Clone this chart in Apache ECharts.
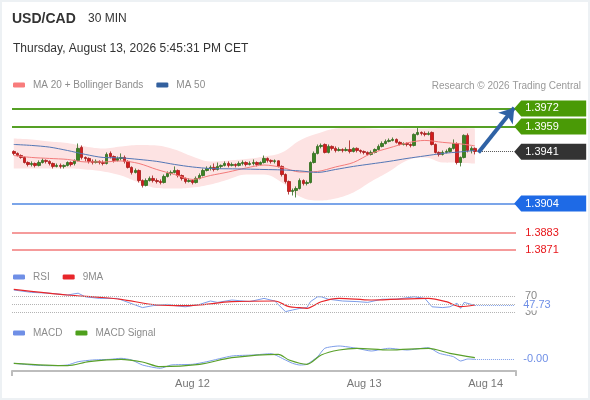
<!DOCTYPE html>
<html><head><meta charset="utf-8">
<script src="https://cdn.jsdelivr.net/npm/echarts@6/dist/echarts.min.js"></script>
<style>
html,body{margin:0;padding:0;background:#fff}
#wrap{position:relative;width:590px;height:400px}
#c{width:590px;height:400px}
#frame{position:absolute;left:0;top:0;right:0;bottom:0;border:2px solid #edf1f4;pointer-events:none}
</style>
</head><body><div id="wrap"><div id="c"></div><div id="frame"></div></div>
<script>
// ---------- data ----------
const slotCount = 141; // 30-min slots on the time axis (candles + empty future area)
const xTickLabels = [[50, 'Aug 12'], [98, 'Aug 13'], [132, 'Aug 14']];

const opens = [1.39412,1.39398,1.39383,1.39369,1.39333,1.39319,1.39326,1.39312,1.39333,1.39348,
 1.39341,1.39326,1.39305,1.39312,1.39305,1.39312,1.39333,1.39326,1.39348,1.39441,
 1.39369,1.39362,1.39341,1.39333,1.39341,1.39333,1.39326,1.39398,1.39376,1.39348,
 1.39362,1.39369,1.39341,1.39298,1.39262,1.39276,1.39204,1.39169,1.39204,1.39219,
 1.39204,1.39197,1.39190,1.39233,1.39255,1.39262,1.39276,1.39240,1.39219,1.39197,
 1.39204,1.39190,1.39219,1.39240,1.39276,1.39290,1.39298,1.39283,1.39305,1.39312,
 1.39326,1.39312,1.39319,1.39312,1.39326,1.39333,1.39319,1.39326,1.39333,1.39319,
 1.39333,1.39362,1.39348,1.39341,1.39345,1.39305,1.39247,1.39197,1.39126,1.39133,
 1.39147,1.39204,1.39183,1.39190,1.39333,1.39398,1.39448,1.39462,1.39405,1.39448,
 1.39434,1.39419,1.39426,1.39419,1.39426,1.39412,1.39434,1.39419,1.39412,1.39405,
 1.39391,1.39405,1.39426,1.39448,1.39469,1.39484,1.39491,1.39498,1.39477,1.39462,
 1.39469,1.39462,1.39455,1.39534,1.39548,1.39541,1.39534,1.39548,1.39462,1.39405,
 1.39391,1.39405,1.39412,1.39434,1.39469,1.39333,1.39369,1.39527,1.39419,1.39434];

const closes = [1.39398,1.39383,1.39369,1.39333,1.39319,1.39326,1.39312,1.39333,1.39348,1.39341,
 1.39326,1.39305,1.39312,1.39305,1.39312,1.39333,1.39319,1.39348,1.39434,1.39369,
 1.39362,1.39341,1.39333,1.39341,1.39333,1.39326,1.39391,1.39376,1.39348,1.39362,
 1.39369,1.39341,1.39298,1.39262,1.39276,1.39204,1.39169,1.39204,1.39219,1.39204,
 1.39197,1.39190,1.39233,1.39255,1.39262,1.39276,1.39240,1.39219,1.39197,1.39204,
 1.39190,1.39219,1.39240,1.39276,1.39290,1.39298,1.39283,1.39305,1.39312,1.39326,
 1.39312,1.39319,1.39312,1.39326,1.39333,1.39319,1.39326,1.39333,1.39319,1.39333,
 1.39362,1.39348,1.39341,1.39345,1.39305,1.39247,1.39197,1.39126,1.39133,1.39147,
 1.39204,1.39183,1.39190,1.39333,1.39398,1.39448,1.39455,1.39405,1.39448,1.39434,
 1.39419,1.39426,1.39419,1.39426,1.39412,1.39434,1.39419,1.39412,1.39405,1.39391,
 1.39405,1.39426,1.39448,1.39469,1.39484,1.39491,1.39498,1.39477,1.39462,1.39469,
 1.39462,1.39455,1.39534,1.39548,1.39541,1.39534,1.39541,1.39462,1.39405,1.39391,
 1.39405,1.39412,1.39434,1.39469,1.39333,1.39369,1.39527,1.39419,1.39434,1.39412];

const lows = [1.39385,1.39376,1.39360,1.39326,1.39305,1.39305,1.39298,1.39305,1.39326,1.39326,
 1.39312,1.39290,1.39298,1.39290,1.39290,1.39305,1.39305,1.39312,1.39341,1.39355,
 1.39341,1.39326,1.39319,1.39326,1.39319,1.39312,1.39319,1.39362,1.39333,1.39341,
 1.39348,1.39326,1.39290,1.39247,1.39255,1.39190,1.39154,1.39162,1.39197,1.39190,
 1.39183,1.39176,1.39183,1.39226,1.39240,1.39255,1.39226,1.39204,1.39183,1.39190,
 1.39176,1.39183,1.39212,1.39233,1.39269,1.39276,1.39269,1.39276,1.39290,1.39305,
 1.39298,1.39305,1.39298,1.39305,1.39312,1.39305,1.39312,1.39312,1.39305,1.39312,
 1.39326,1.39333,1.39326,1.39326,1.39298,1.39233,1.39183,1.39104,1.39097,1.39083,
 1.39140,1.39169,1.39169,1.39183,1.39326,1.39391,1.39434,1.39398,1.39398,1.39419,
 1.39405,1.39412,1.39405,1.39412,1.39398,1.39405,1.39405,1.39398,1.39391,1.39383,
 1.39383,1.39398,1.39419,1.39441,1.39462,1.39477,1.39484,1.39469,1.39455,1.39455,
 1.39448,1.39441,1.39448,1.39527,1.39527,1.39520,1.39527,1.39455,1.39398,1.39376,
 1.39383,1.39398,1.39405,1.39426,1.39319,1.39305,1.39362,1.39405,1.39398,1.39391];

const highs = [1.39420,1.39405,1.39391,1.39376,1.39341,1.39341,1.39333,1.39348,1.39362,1.39355,
 1.39348,1.39333,1.39326,1.39326,1.39319,1.39341,1.39341,1.39355,1.39469,1.39455,
 1.39376,1.39369,1.39355,1.39355,1.39348,1.39348,1.39405,1.39412,1.39383,1.39376,
 1.39398,1.39383,1.39348,1.39305,1.39290,1.39283,1.39212,1.39219,1.39233,1.39240,
 1.39219,1.39212,1.39247,1.39269,1.39276,1.39305,1.39283,1.39247,1.39226,1.39219,
 1.39212,1.39233,1.39255,1.39290,1.39305,1.39312,1.39326,1.39333,1.39319,1.39341,
 1.39341,1.39333,1.39326,1.39341,1.39348,1.39341,1.39341,1.39355,1.39341,1.39341,
 1.39383,1.39369,1.39355,1.39355,1.39348,1.39312,1.39255,1.39204,1.39147,1.39162,
 1.39219,1.39212,1.39204,1.39341,1.39412,1.39462,1.39469,1.39469,1.39462,1.39455,
 1.39448,1.39441,1.39434,1.39441,1.39491,1.39441,1.39441,1.39426,1.39419,1.39412,
 1.39419,1.39434,1.39462,1.39484,1.39498,1.39505,1.39512,1.39505,1.39484,1.39477,
 1.39477,1.39469,1.39541,1.39584,1.39555,1.39555,1.39555,1.39555,1.39469,1.39412,
 1.39419,1.39426,1.39441,1.39498,1.39477,1.39376,1.39534,1.39541,1.39448,1.39441];

const ma20 = [[0,1.39383],[5,1.39369],[10,1.39362],[15,1.39355],[20,1.39337],[25,1.39337],[30,1.39344],[35,1.39326],[40,1.39283],[45,1.39247],[50,1.39212],[55,1.39240],[60,1.39265],[65,1.39294],[70,1.39315],[75,1.39298],[80,1.39265],[85,1.39269],[90,1.39301],[95,1.39333],[100,1.39398],[105,1.39437],[110,1.39473],[115,1.39491],[120,1.39477],[125,1.39466],[129,1.39452]];
const ma50 = [[0,1.39462],[5,1.39455],[10,1.39443],[15,1.39419],[20,1.39391],[25,1.39369],[30,1.39366],[35,1.39355],[40,1.39341],[45,1.39319],[50,1.39301],[55,1.39290],[60,1.39288],[65,1.39286],[70,1.39283],[75,1.39280],[80,1.39273],[85,1.39262],[90,1.39283],[95,1.39305],[100,1.39323],[105,1.39341],[110,1.39362],[115,1.39380],[120,1.39398],[125,1.39409],[129,1.39419]];
const bbUpper = [[0,1.39505],[5,1.39498],[10,1.39484],[15,1.39473],[20,1.39448],[25,1.39434],[30,1.39448],[35,1.39459],[40,1.39455],[45,1.39426],[50,1.39376],[55,1.39341],[60,1.39348],[65,1.39358],[70,1.39376],[75,1.39405],[80,1.39491],[85,1.39541],[90,1.39577],[95,1.39584],[100,1.39577],[105,1.39570],[110,1.39577],[115,1.39577],[120,1.39580],[125,1.39580],[129,1.39577]];
const bbLower = [[0,1.39290],[5,1.39290],[10,1.39290],[15,1.39290],[20,1.39283],[25,1.39269],[30,1.39240],[35,1.39190],[40,1.39151],[45,1.39147],[50,1.39154],[55,1.39176],[60,1.39212],[65,1.39247],[70,1.39247],[75,1.39190],[80,1.39090],[85,1.39061],[90,1.39076],[95,1.39119],[100,1.39197],[105,1.39269],[110,1.39348],[115,1.39369],[120,1.39333],[125,1.39330],[129,1.39326]];

const rsi = [[0,85],[5,79],[10,77],[15,72.5],[18,77],[20,68],[24,64],[29,64],[32,54],[34,47.5],[36,41],[39,46],[43,49],[45,46],[48,43],[52,49],[55,57.5],[57,54],[61,60],[66,56],[70,64],[73,57.5],[76,31],[78,35],[80,39],[82,41],[83,56],[85,68],[86,68],[88,62],[92,57.5],[96,56],[99,54],[103,62],[107,62],[112,68],[115,64],[117,43],[120,41],[122,43],[124,52],[125,39],[126,54],[128,49],[129,47.73]];
const rsi9ma = [[0,86.75],[15,72.5],[24,66.75],[30,61.75],[40,47.5],[48,45.75],[61,55.75],[73,57.5],[77,43.25],[80,40.75],[82,39.25],[86,55.75],[91,64.25],[100,60],[116,64.25],[121,55.75],[125,43.25],[129,47.5]];
const rsiTicks = [70, 30];
const rsiGuides = [70, 50, 30];
const rsiLast = { index: 129, value: 47.73, label: '47.73' };

const macd = [[0,-0.000086],[5,-0.00012],[10,-0.000134],[15,-0.00012],[18,-0.000054],[22,-0.00002],[27,-0.000006],[30,0.000014],[33,-0.00002],[36,-0.00012],[41,-0.000186],[44,-0.00012],[50,-0.000106],[54,-0.000054],[61,0.00006],[67,0.00008],[72,0.000106],[76,-0.00002],[78,-0.000086],[80,-0.00012],[82,-0.000106],[85,0.000046],[87,0.000214],[91,0.00026],[96,0.000214],[100,0.00016],[105,0.000214],[110,0.00018],[116,0.000226],[119,0.000114],[123,0.000046],[125,-0.00004],[127,0],[129,-0.000006]];
const macdSignal = [[0,-0.000086],[15,-0.000134],[21,-0.000054],[30,-0.000006],[36,-0.00006],[41,-0.000154],[52,-0.000106],[61,0.000026],[74,0.000094],[77,-0.00002],[82,-0.000106],[86,0.00008],[91,0.00018],[96,0.000214],[105,0.00018],[116,0.000214],[122,0.000114],[129,0.000026]];
const macdLast = { index: 129, value: -0.000006, label: '-0.00' };

const resistances = [1.3972, 1.3959];
const lastPrice = 1.3941;
const pivot = 1.3904;
const supports = [1.3883, 1.3871];
const arrowFrom = [130, 1.39405];
const arrowTo = [140, 1.39725];

// ---------- chart ----------
const FONT = "'Liberation Sans', Arial, Helvetica, sans-serif";
const cats = Array.from({ length: slotCount }, (_, i) => String(i));
const lastSlot = slotCount - 1;
const labelMap = Object.fromEntries(xTickLabels);
const candleData = opens.map((o, i) => [o, closes[i], lows[i], highs[i]]);
const bandWidth = bbUpper.map((p, k) => [p[0], +(p[1] - bbLower[k][1]).toFixed(6)]);

const legendCommon = {
  itemWidth: 12, itemHeight: 5, itemGap: 13, icon: 'roundRect', padding: 0,
  selectedMode: false, textStyle: { color: '#8c8c8c', fontSize: 10, padding: [0, 0, 0, 3] }
};
const boxPath = 'path://M0,8 L7,0 L72,0 L72,16 L7,16 Z';
const levelLine = (v, style) => ({ yAxis: v, lineStyle: style, label: { show: false } });
const SUPPORT_LINE = { color: '#f27a7a', width: 1.5, type: 'solid' };

const option = {
  animation: false,
  backgroundColor: '#fff',
  textStyle: { fontFamily: FONT },
  title: [
    { text: 'USD/CAD', left: 12, top: 12, padding: 0, textStyle: { fontSize: 14, fontWeight: 'bold', color: '#333', fontFamily: FONT } },
    { text: '30 MIN', left: 88, top: 13, padding: 0, textStyle: { fontSize: 12, fontWeight: 'normal', color: '#333', fontFamily: FONT } },
    { text: 'Thursday, August 13, 2026 5:45:31 PM CET', left: 13, top: 43, padding: 0, textStyle: { fontSize: 12, fontWeight: 'normal', color: '#333', fontFamily: FONT } },
    { text: 'Research © 2026 Trading Central', right: 9, top: 81, padding: 0, textStyle: { fontSize: 10, fontWeight: 'normal', color: '#999', fontFamily: FONT } }
  ],
  legend: [
    Object.assign({}, legendCommon, { left: 13, top: 80, data: [
      { name: 'MA 20 + Bollinger Bands', itemStyle: { color: '#f87c7c' } },
      { name: 'MA 50', itemStyle: { color: '#33609e' } } ] }),
    Object.assign({}, legendCommon, { left: 13, top: 272, data: [
      { name: 'RSI', itemStyle: { color: '#6f8fe6' } },
      { name: '9MA', itemStyle: { color: '#e8262a' } } ] }),
    Object.assign({}, legendCommon, { left: 13, top: 328, data: [
      { name: 'MACD', itemStyle: { color: '#6f8fe6' } },
      { name: 'MACD Signal', itemStyle: { color: '#4ea01c' } } ] })
  ],
  grid: [
    { left: 12, width: 504, top: 100, height: 158 },
    { left: 12, width: 504, top: 284, height: 40 },
    { left: 12, width: 504, top: 340, height: 31 }
  ],
  xAxis: [
    { type: 'category', gridIndex: 0, data: cats, show: false },
    { type: 'category', gridIndex: 1, data: cats, show: false },
    { type: 'category', gridIndex: 2, data: cats,
      axisLine: { onZero: false, lineStyle: { color: '#bdbdbd', width: 2 } },
      axisTick: { show: true, interval: (i) => i === 0, length: 5, lineStyle: { color: '#bdbdbd', width: 2 } },
      axisLabel: { interval: (i) => labelMap[i] !== undefined, formatter: (v, i) => labelMap[i] || '', color: '#777', fontSize: 11, margin: 7 },
      splitLine: { show: false } }
  ],
  yAxis: [
    { type: 'value', gridIndex: 0, min: 1.3865, max: 1.3978, show: false },
    { type: 'value', gridIndex: 1, min: 0, max: 100, interval: 10, position: 'right',
      axisLine: { show: false }, axisTick: { show: false }, splitLine: { show: false },
      axisLabel: { formatter: (v) => rsiTicks.includes(v) ? String(v) : '', color: '#888', fontSize: 11, margin: 9 } },
    { type: 'value', gridIndex: 2, min: -0.00024, max: 0.00038, show: false }
  ],
  series: [
    { name: 'bbLow', type: 'line', xAxisIndex: 0, yAxisIndex: 0, data: bbLower, stack: 'bb', smooth: 0.4,
      symbol: 'none', lineStyle: { opacity: 0 }, silent: true, z: 1 },
    { name: 'bbBand', type: 'line', xAxisIndex: 0, yAxisIndex: 0, data: bandWidth, stack: 'bb', smooth: 0.4,
      symbol: 'none', lineStyle: { opacity: 0 }, areaStyle: { color: '#fde3e3', opacity: 1 }, silent: true, z: 1 },
    { name: 'USD/CAD', type: 'candlestick', xAxisIndex: 0, yAxisIndex: 0, data: candleData, barWidth: 3, z: 2,
      itemStyle: { color: '#3d8424', color0: '#d41c1c', borderColor: '#2f6a1c', borderColor0: '#a51818', borderWidth: 0.8 } },
    { name: 'MA 20 + Bollinger Bands', type: 'line', xAxisIndex: 0, yAxisIndex: 0, data: ma20, smooth: 0.3,
      symbol: 'none', lineStyle: { color: '#f37b7b', width: 1 }, itemStyle: { color: '#f87c7c' }, z: 3,
      markLine: { silent: true, symbol: 'none', animation: false, precision: 5,
        data: [
          levelLine(resistances[0], { color: '#55a025', width: 2, type: 'solid' }),
          levelLine(resistances[1], { color: '#55a025', width: 2, type: 'solid' }),
          levelLine(pivot, { color: '#4f87e2', width: 1.5, type: 'solid' }),
          levelLine(supports[0], SUPPORT_LINE),
          levelLine(supports[1], SUPPORT_LINE),
          [ { coord: [131, lastPrice], lineStyle: { color: '#555', width: 1, type: 'dotted' }, label: { show: false } },
            { coord: [lastSlot, lastPrice] } ]
        ] },
      markPoint: { silent: true, symbol: boxPath, symbolSize: [72, 16], symbolOffset: [36, 0],
        label: { show: true, position: 'insideLeft', distance: 11, color: '#fff', fontSize: 11, formatter: (p) => p.name },
        data: [
          { name: resistances[0].toFixed(4), coord: [lastSlot, resistances[0]], itemStyle: { color: '#4a9a06' } },
          { name: resistances[1].toFixed(4), coord: [lastSlot, resistances[1]], itemStyle: { color: '#4a9a06' } },
          { name: lastPrice.toFixed(4), coord: [lastSlot, lastPrice], itemStyle: { color: '#333333' } },
          { name: pivot.toFixed(4), coord: [lastSlot, pivot], itemStyle: { color: '#1e6ae6' } },
          { name: supports[0].toFixed(4), coord: [lastSlot, supports[0]], itemStyle: { color: 'rgba(0,0,0,0)' }, label: { color: '#e8161b' } },
          { name: supports[1].toFixed(4), coord: [lastSlot, supports[1]], itemStyle: { color: 'rgba(0,0,0,0)' }, label: { color: '#e8161b' } }
        ] } },
    { name: 'MA 50', type: 'line', xAxisIndex: 0, yAxisIndex: 0, data: ma50, smooth: 0.3,
      symbol: 'none', lineStyle: { color: '#5377b6', width: 1 }, itemStyle: { color: '#33609e' }, z: 3,
      markLine: { silent: true, symbol: ['none', 'arrow'], symbolSize: 14, animation: false,
        lineStyle: { color: '#2f62a5', width: 4, type: 'solid' }, label: { show: false },
        data: [[ { coord: arrowFrom }, { coord: arrowTo } ]] } },
    { name: 'RSI', type: 'line', xAxisIndex: 1, yAxisIndex: 1, data: rsi, symbol: 'none',
      lineStyle: { color: '#7d9de9', width: 1 }, itemStyle: { color: '#6f8fe6' }, z: 3,
      markLine: { silent: true, symbol: 'none', animation: false,
        data: rsiGuides.map(v => ({ yAxis: v, lineStyle: { color: '#b4b4b4', width: 1, type: 'dotted' }, label: { show: false } }))
          .concat([[ { coord: [rsiLast.index, rsiLast.value], lineStyle: { color: '#7d9de9', width: 1, type: 'dotted' },
            label: { show: true, position: 'end', distance: 9, formatter: rsiLast.label, color: '#6f8fe6', fontSize: 11, backgroundColor: '#fff' } },
            { coord: [lastSlot, rsiLast.value] } ]]) } },
    { name: '9MA', type: 'line', xAxisIndex: 1, yAxisIndex: 1, data: rsi9ma, smooth: 0.3, symbol: 'none',
      lineStyle: { color: '#e8262a', width: 1.2 }, itemStyle: { color: '#e8262a' }, z: 4 },
    { name: 'MACD', type: 'line', xAxisIndex: 2, yAxisIndex: 2, data: macd, symbol: 'none', smooth: 0.2,
      lineStyle: { color: '#7d9de9', width: 1 }, itemStyle: { color: '#6f8fe6' }, z: 3,
      markLine: { silent: true, symbol: 'none', animation: false,
        data: [[ { coord: [macdLast.index, macdLast.value], lineStyle: { color: '#7d9de9', width: 1, type: 'dotted' },
          label: { show: true, position: 'end', distance: 9, formatter: macdLast.label, color: '#6f8fe6', fontSize: 11 } },
          { coord: [lastSlot, macdLast.value] } ]] } },
    { name: 'MACD Signal', type: 'line', xAxisIndex: 2, yAxisIndex: 2, data: macdSignal, smooth: 0.3, symbol: 'none',
      lineStyle: { color: '#5aa02a', width: 1.2 }, itemStyle: { color: '#4ea01c' }, z: 4 }
  ]
};

const chart = echarts.init(document.getElementById('c'), null, { renderer: 'canvas' });
chart.setOption(option);
</script>
</body></html>
